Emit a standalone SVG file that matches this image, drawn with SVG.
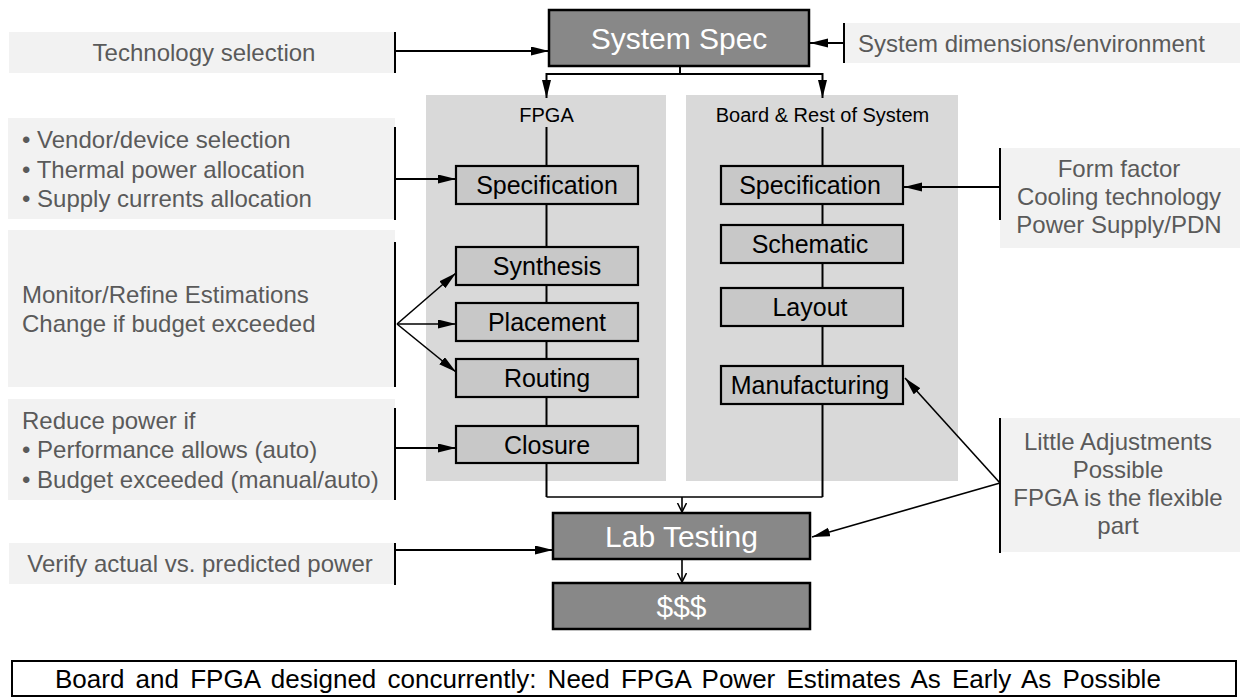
<svg xmlns="http://www.w3.org/2000/svg" width="1243" height="698" viewBox="0 0 1243 698">
<style>
  .ann { fill: #f2f2f2; }
  .annt { fill: #5a5a5a; font-family: "Liberation Sans", Arial, sans-serif; font-size: 24px; }
  .c { text-anchor: middle; }
  .panel { fill: #d9d9d9; }
  .plabel { fill: #000; font-family: "Liberation Sans", Arial, sans-serif; font-size: 20px; text-anchor: middle; }
  .node rect { fill: #c8c8c8; stroke: #000; stroke-width: 2.2; }
  .node text { fill: #000; font-family: "Liberation Sans", Arial, sans-serif; font-size: 25px; text-anchor: middle; }
  .dark rect { fill: #888888; stroke: #000; stroke-width: 2.5; }
  .dark text { fill: #fff; font-family: "Liberation Sans", Arial, sans-serif; font-size: 30px; text-anchor: middle; }
  .bar { stroke: #000; stroke-width: 2; fill: none; }
  .ln { stroke: #000; stroke-width: 2; fill: none; }
  .thin { stroke: #000; stroke-width: 1.6; fill: none; }
  .foot rect { fill: #fff; stroke: #000; stroke-width: 2; }
  .foot text { fill: #000; font-family: "Liberation Sans", Arial, sans-serif; font-size: 26px; word-spacing: 4px; }
</style>
<defs>
  <marker id="ah" markerUnits="userSpaceOnUse" markerWidth="20" markerHeight="12" refX="18" refY="4.5" orient="auto">
    <path d="M0,0 L18,4.5 L0,9 z" fill="#000"/>
  </marker>
  <marker id="av" markerUnits="userSpaceOnUse" markerWidth="12" markerHeight="12" refX="9" refY="5" orient="auto">
    <path d="M0,0.5 L9,5 L0,9.5" fill="none" stroke="#000" stroke-width="1.5"/>
  </marker>
</defs>

<!-- panels -->
<g id="panel-fpga">
  <rect class="panel" x="426" y="95" width="240" height="386"/>
  <text class="plabel" x="546.5" y="122">FPGA</text>
</g>
<g id="panel-board">
  <rect class="panel" x="686" y="95" width="272" height="386"/>
  <text class="plabel" x="822.5" y="122">Board &amp; Rest of System</text>
</g>

<!-- annotation boxes -->
<g id="ann-tech">
  <rect class="ann" x="9" y="32" width="386" height="41"/>
  <line class="bar" x1="395" y1="32" x2="395" y2="73"/>
  <text class="annt c" x="204" y="61">Technology selection</text>
</g>
<g id="ann-sysdim">
  <rect class="ann" x="844" y="23" width="396" height="40"/>
  <line class="bar" x1="844" y1="23" x2="844" y2="63"/>
  <text class="annt" x="858" y="52">System dimensions/environment</text>
</g>
<g id="ann-vendor">
  <rect class="ann" x="8" y="118" width="387" height="101"/>
  <line class="bar" x1="395" y1="127" x2="395" y2="220"/>
  <text class="annt" x="22" y="148">• Vendor/device selection</text>
  <text class="annt" x="22" y="177.5">• Thermal power allocation</text>
  <text class="annt" x="22" y="207">• Supply currents allocation</text>
</g>
<g id="ann-monitor">
  <rect class="ann" x="8" y="230" width="387" height="157"/>
  <line class="bar" x1="395" y1="242" x2="395" y2="387"/>
  <text class="annt" x="22" y="303">Monitor/Refine Estimations</text>
  <text class="annt" x="22" y="332">Change if budget exceeded</text>
</g>
<g id="ann-reduce">
  <rect class="ann" x="8" y="399" width="387" height="101"/>
  <line class="bar" x1="395" y1="408" x2="395" y2="500"/>
  <text class="annt" x="22" y="429">Reduce power if</text>
  <text class="annt" x="22" y="458">• Performance allows (auto)</text>
  <text class="annt" x="22" y="488">• Budget exceeded (manual/auto)</text>
</g>
<g id="ann-verify">
  <rect class="ann" x="9" y="543" width="386" height="41"/>
  <line class="bar" x1="395" y1="543" x2="395" y2="585"/>
  <text class="annt c" x="200" y="572">Verify actual vs. predicted power</text>
</g>
<g id="ann-formfactor">
  <rect class="ann" x="1000" y="148" width="240" height="100"/>
  <line class="bar" x1="1000" y1="148" x2="1000" y2="220"/>
  <text class="annt c" x="1119" y="177">Form factor</text>
  <text class="annt c" x="1119" y="205">Cooling technology</text>
  <text class="annt c" x="1119" y="233">Power Supply/PDN</text>
</g>
<g id="ann-little">
  <rect class="ann" x="1000" y="418" width="240" height="134"/>
  <line class="bar" x1="1000" y1="418" x2="1000" y2="553"/>
  <text class="annt c" x="1118" y="450">Little Adjustments</text>
  <text class="annt c" x="1118" y="478">Possible</text>
  <text class="annt c" x="1118" y="506">FPGA is the flexible</text>
  <text class="annt c" x="1118" y="534">part</text>
</g>

<!-- connectors -->
<g id="connectors">
  <line class="ln" x1="395" y1="51" x2="549" y2="51" marker-end="url(#ah)"/>
  <line class="ln" x1="844" y1="43" x2="810" y2="43" marker-end="url(#ah)"/>
  <path class="ln" d="M680,66 V74 M546.5,74 H822.5"/>
  <line class="ln" x1="546.5" y1="73" x2="546.5" y2="98" marker-end="url(#ah)"/>
  <line class="ln" x1="822.5" y1="73" x2="822.5" y2="98" marker-end="url(#ah)"/>
  <line class="ln" x1="546.5" y1="127" x2="546.5" y2="497"/>
  <line class="ln" x1="822.5" y1="127" x2="822.5" y2="497"/>
  <line class="thin" x1="546.5" y1="497" x2="822.5" y2="497"/>
  <line class="thin" x1="682" y1="497" x2="682" y2="512" marker-end="url(#av)"/>
  <line class="thin" x1="682" y1="560" x2="682" y2="582" marker-end="url(#av)"/>
  <line class="ln" x1="395" y1="179" x2="456" y2="179" marker-end="url(#ah)"/>
  <line class="thin" x1="397" y1="324" x2="456" y2="273" marker-end="url(#ah)"/>
  <line class="thin" x1="397" y1="324" x2="456" y2="324" marker-end="url(#ah)"/>
  <line class="thin" x1="397" y1="324" x2="456" y2="372" marker-end="url(#ah)"/>
  <line class="ln" x1="395" y1="448" x2="456" y2="448" marker-end="url(#ah)"/>
  <line class="ln" x1="395" y1="550" x2="553" y2="550" marker-end="url(#ah)"/>
  <line class="ln" x1="1000" y1="187" x2="904" y2="187" marker-end="url(#ah)"/>
  <line class="thin" x1="1000" y1="483" x2="905" y2="378" marker-end="url(#ah)"/>
  <line class="thin" x1="1000" y1="483" x2="812" y2="537" marker-end="url(#ah)"/>
</g>

<!-- main nodes -->
<g id="system-spec" class="dark">
  <rect x="549" y="10" width="260" height="56"/>
  <text x="679" y="49">System Spec</text>
</g>
<g id="fpga-spec" class="node">
  <rect x="456" y="166" width="182" height="38"/>
  <text x="547" y="194">Specification</text>
</g>
<g id="fpga-synthesis" class="node">
  <rect x="456" y="247" width="182" height="38"/>
  <text x="547" y="275">Synthesis</text>
</g>
<g id="fpga-placement" class="node">
  <rect x="456" y="303" width="182" height="38"/>
  <text x="547" y="331">Placement</text>
</g>
<g id="fpga-routing" class="node">
  <rect x="456" y="359" width="182" height="38"/>
  <text x="547" y="387">Routing</text>
</g>
<g id="fpga-closure" class="node">
  <rect x="456" y="426" width="182" height="37"/>
  <text x="547" y="453.5">Closure</text>
</g>
<g id="board-spec" class="node">
  <rect x="721" y="166" width="182" height="38"/>
  <text x="810" y="194">Specification</text>
</g>
<g id="board-schematic" class="node">
  <rect x="721" y="225" width="182" height="38"/>
  <text x="810" y="253">Schematic</text>
</g>
<g id="board-layout" class="node">
  <rect x="721" y="288" width="182" height="38"/>
  <text x="810" y="316">Layout</text>
</g>
<g id="board-manufacturing" class="node">
  <rect x="721" y="366" width="182" height="38"/>
  <text x="810" y="394">Manufacturing</text>
</g>
<g id="lab-testing" class="dark">
  <rect x="553" y="513" width="257" height="46"/>
  <text x="681.5" y="547">Lab Testing</text>
</g>
<g id="cost" class="dark">
  <rect x="553" y="583" width="257" height="46"/>
  <text x="681.5" y="617">$$$</text>
</g>

<g id="footer" class="foot">
  <rect x="12" y="661" width="1224" height="35"/>
  <text x="55" y="688">Board and FPGA designed concurrently: Need FPGA Power Estimates As Early As Possible</text>
</g>
</svg>
